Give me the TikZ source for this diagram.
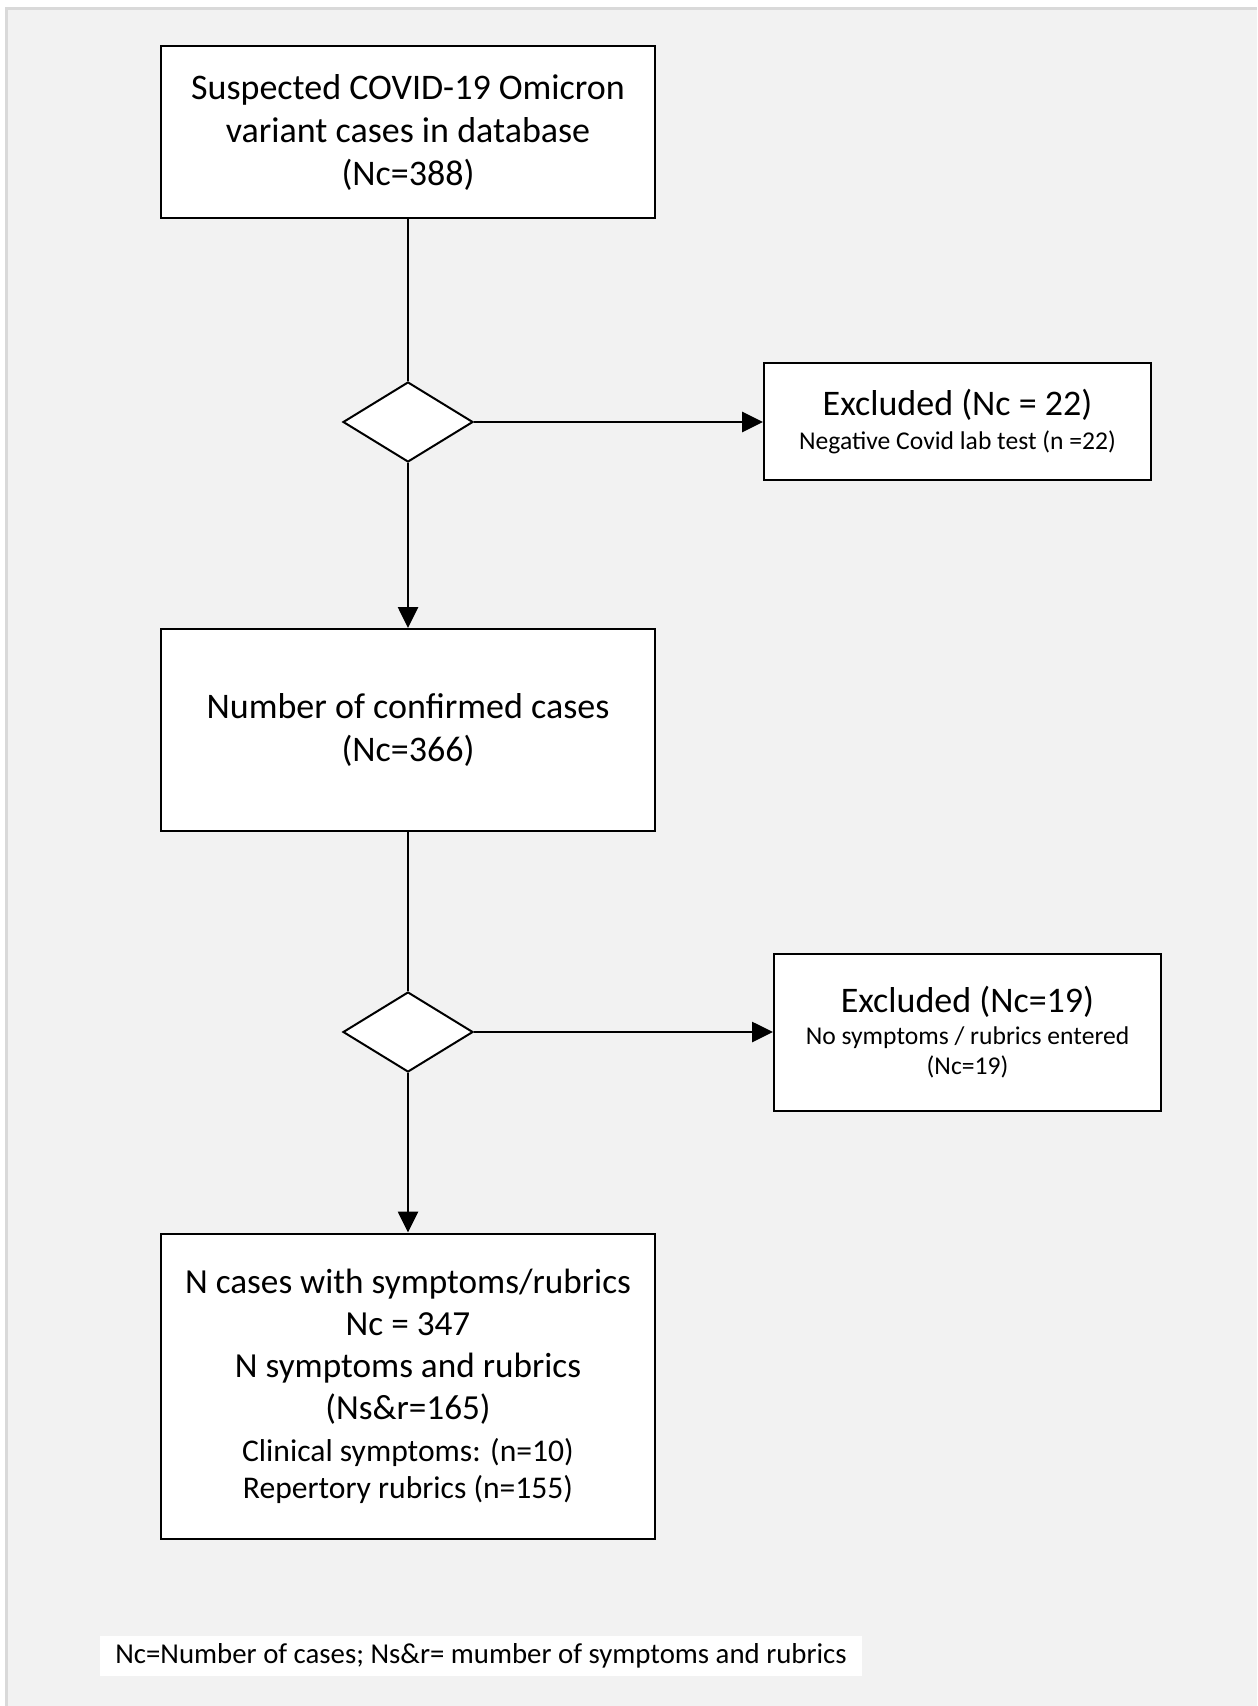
\documentclass[tikz,border=0pt]{standalone}
\usepackage{fontspec}
\setmainfont{Carlito}
\usepackage{xcolor}
\usetikzlibrary{shapes.geometric,arrows.meta}
\definecolor{bgcol}{HTML}{F2F2F2}
\definecolor{framecol}{HTML}{D9D9D9}

\begin{document}
\begin{tikzpicture}[x=0.5pt,y=-0.5pt,
  every node/.style={draw, fill=white, line width=1pt, align=center, inner sep=0pt},
  mainbox/.style={minimum width=247pt, font=\fontsize{18}{21.5}\selectfont},
  exclbox/.style={minimum width=193.5pt, font=\fontsize{18}{19}\selectfont},
  subtext/.style={font=\fontsize{12.8}{14}\selectfont},
  decision/.style={diamond, minimum width=65pt, minimum height=40pt},
  arr/.style={line width=1.35pt, -{Triangle[length=10.5pt,width=10pt]}}]
\useasboundingbox (0,0) rectangle (1257,1706);
\fill[white] (0,0) rectangle (1257,1706);
\fill[bgcol] (6,9) rectangle (1257,1706);
\draw[framecol, line width=1.5pt] (6,1706) -- (6,9) -- (1257,9);

\node[mainbox, minimum height=86pt] (susp) at (408,132.5) {Suspected COVID-19 Omicron\\variant cases in database\\(Nc=388)};
\node[decision] (dec1) at (408,422) {};
\node[exclbox, minimum height=58.5pt] (excl1) at (957.5,421.5) {Excluded (Nc = 22)\\[-2pt]{\fontsize{12.8}{14}\selectfont Negative Covid lab test (n =22)}};
\node[mainbox, minimum height=101pt] (conf) at (408,730) {Number of confirmed cases\\(Nc=366)};
\node[decision] (dec2) at (408,1032) {};
\node[exclbox, minimum height=78.5pt] (excl2) at (967.5,1032.5) {Excluded (Nc=19)\\[-3pt]{\fontsize{12.8}{14}\selectfont No symptoms / rubrics entered}\\[-4pt]{\fontsize{12.8}{14}\selectfont (Nc=19)}};
\node[mainbox, minimum height=152.5pt, font=\fontsize{17.6}{21}\selectfont] (final) at (408,1386) {N cases with symptoms/rubrics\\Nc = 347\\N symptoms and rubrics\\(Ns\&r=165)\\{\fontsize{15.8}{18}\selectfont Clinical symptoms: (n=10)}\\[-2.5pt]{\fontsize{15.8}{18}\selectfont Repertory rubrics (n=155)}};
\node[draw=none, minimum width=381pt, minimum height=20pt, font=\fontsize{14.4}{16}\selectfont] (note) at (481,1656) {Nc=Number of cases; Ns\&r= mumber of symptoms and rubrics};

\draw[line width=1.35pt] (susp) -- (dec1);
\draw[arr] (dec1.east) -- (dec1.east -| excl1.west);
\draw[arr] (dec1) -- (conf);
\draw[line width=1.35pt] (conf) -- (dec2);
\draw[arr] (dec2.east) -- (dec2.east -| excl2.west);
\draw[arr] (dec2) -- (final);
\end{tikzpicture}
\end{document}
